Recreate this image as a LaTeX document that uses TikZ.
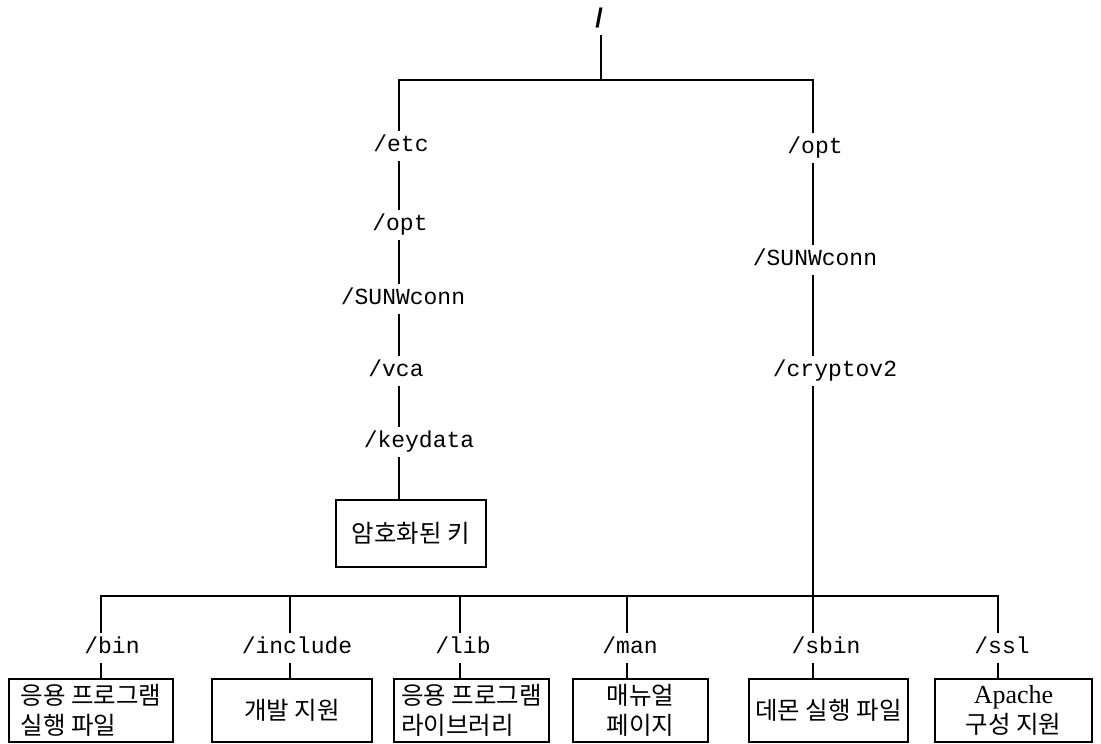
\documentclass[tikz,border=0pt]{standalone}
\usepackage{fontspec}
\setmainfont{Liberation Serif}
\newfontfamily\monof{Liberation Mono}
\newfontfamily\sansf{Liberation Sans}
\newfontfamily\kor{Noto Sans CJK KR}
\begin{document}
\begin{tikzpicture}[x=1pt,y=-1pt,line width=2.6pt,
  lbl/.style={font=\monof\fontsize{23}{28}\selectfont, inner xsep=0pt, inner ysep=4pt, text height=15pt, text depth=5pt},
  rootlbl/.style={font=\sansf\bfseries\fontsize{27}{30}\selectfont, inner xsep=0pt, inner ysep=2pt, text height=19pt, text depth=4pt},
  fbox/.style={draw, line width=2.6pt, inner sep=0pt, font=\kor\fontsize{24.5}{30}\selectfont, align=center, minimum height=63pt}
]
\useasboundingbox (0,0) rectangle (1101,744);

% column coordinates
\coordinate (colL) at (399,0);
\coordinate (colR) at (813,0);
\coordinate (cbin) at (101,0);
\coordinate (cinc) at (290,0);
\coordinate (clib) at (460,0);
\coordinate (cman) at (627,0);
\coordinate (cssl) at (998,0);
\coordinate (jt) at (601,80);
\coordinate (jb) at (813,596);

% labels
\node[rootlbl] (root) at (599,20) {/};
\node[lbl] (etc) at (401,146) {/etc};
\node[lbl] (optL) at (400,225) {/opt};
\node[lbl] (sunwL) at (403,299) {/SUNWconn};
\node[lbl] (vca) at (396,371) {/vca};
\node[lbl] (keydata) at (419,442) {/keydata};
\node[fbox, minimum width=150pt, minimum height=67pt] (keybox) at (411,533.5) {암호화된 키};

\node[lbl] (optR) at (815,148) {/opt};
\node[lbl] (sunwR) at (815,260) {/SUNWconn};
\node[lbl] (crypto) at (835,371) {/cryptov2};

\node[lbl] (bin) at (112,648) {/bin};
\node[lbl] (include) at (297,648) {/include};
\node[lbl] (lib) at (463,648) {/lib};
\node[lbl] (man) at (630,648) {/man};
\node[lbl] (sbin) at (826,648) {/sbin};
\node[lbl] (ssl) at (1002,648) {/ssl};

\node[fbox, minimum width=164pt, align=left] (binbox) at (91,710.5) {응용 프로그램\\실행 파일};
\node[fbox, minimum width=160pt] (incbox) at (292,710.5) {개발 지원};
\node[fbox, minimum width=155pt, align=left] (libbox) at (471.5,710.5) {응용 프로그램\\라이브러리};
\node[fbox, minimum width=135pt] (manbox) at (640.5,710.5) {매뉴얼\\페이지};
\node[fbox, minimum width=159pt] (sbinbox) at (828.5,710.5) {데몬 실행 파일};
\node[fbox, minimum width=157pt] (sslbox) at (1013.5,710.5) {{\rmfamily\fontsize{26}{30}\selectfont Apache}\\구성 지원};

% connectors top
\draw (root.south -| jt) -- (jt);
\draw (etc.north -| colL) |- (jt) -| (optR.north -| colR);
\draw (etc.south -| colL) -- (optL.north -| colL);
\draw (optL.south -| colL) -- (sunwL.north -| colL);
\draw (sunwL.south -| colL) -- (vca.north -| colL);
\draw (vca.south -| colL) -- (keydata.north -| colL);
\draw (keydata.south -| colL) -- (keybox.north -| colL);

\draw (optR.south -| colR) -- (sunwR.north -| colR);
\draw (sunwR.south -| colR) -- (crypto.north -| colR);
\draw (crypto.south -| colR) -- (jb);

% connectors bottom
\draw (bin.north -| cbin) |- (jb) -| (ssl.north -| cssl);
\draw (include.north -| cinc) -- (cinc |- jb);
\draw (lib.north -| clib) -- (clib |- jb);
\draw (man.north -| cman) -- (cman |- jb);
\draw (jb) -- (sbin.north -| colR);

\draw (bin.south -| cbin) -- (binbox.north -| cbin);
\draw (include.south -| cinc) -- (incbox.north -| cinc);
\draw (lib.south -| clib) -- (libbox.north -| clib);
\draw (man.south -| cman) -- (manbox.north -| cman);
\draw (sbin.south -| colR) -- (sbinbox.north -| colR);
\draw (ssl.south -| cssl) -- (sslbox.north -| cssl);
\end{tikzpicture}
\end{document}
